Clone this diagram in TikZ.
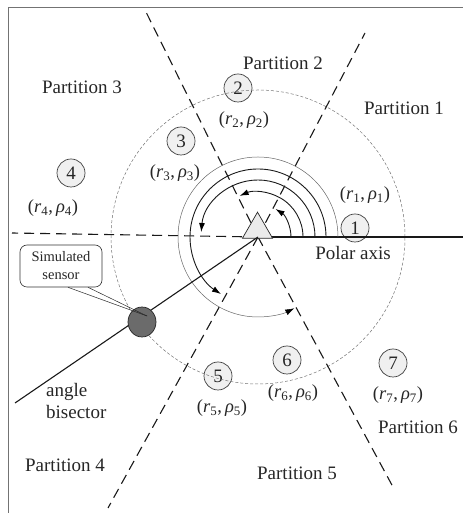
\documentclass[tikz,border=0pt]{standalone}
\usepackage{fontspec}
\setmainfont{Liberation Serif}
\usetikzlibrary{arrows.meta,shapes.geometric}
\begin{document}
\begin{tikzpicture}[x=1pt,y=1pt,
  part/.style={font=\fontsize{19}{22}\selectfont, text=black!85, inner sep=0pt},
  numc/.style={circle, draw=black!75, line width=0.7pt, fill=black!6, minimum size=28pt, inner sep=0pt, font=\fontsize{19}{20}\selectfont, text=black!85},
  coordlbl/.style={font=\fontsize{18.5}{20}\selectfont, text=black!85, inner sep=0pt},
  divline/.style={line width=1.1pt, dash pattern=on 10pt off 6pt, draw=black!90},
  solidline/.style={line width=1.1pt, draw=black!90},
  arcarrow/.style={line width=0.9pt, draw=black!90, -{Latex[length=9pt,width=6pt,color=black]}},
]
\useasboundingbox (0,0) rectangle (463,513);
% frame
\draw[black!55, line width=0.8pt] (8,0) -- (8,506) -- (463,506);

\coordinate (C) at (258,276);
\coordinate (UR) at (365,480);
\coordinate (UL) at (145,503);
\coordinate (L) at (12,280);
\coordinate (LL) at (108,5);
\coordinate (LR) at (393,26);
\coordinate (PA) at (463,276);
\coordinate (BS) at (15,110);

% numbered circles
\node[numc] (n1) at (355,285) {1};
\node[numc] (n2) at (238,425) {2};
\node[numc] (n3) at (181,372) {3};
\node[numc] (n4) at (71,340) {4};
\node[numc] (n5) at (218,137) {5};
\node[numc] (n6) at (287,153) {6};
\node[numc] (n7) at (393,150) {7};

% dashed circle
\draw[black!55, line width=0.5pt, dash pattern=on 3pt off 2pt] (C) circle[radius=147];

% dividing lines
\draw[divline] (C) -- (UR);
\draw[divline] (C) -- (UL);
\draw[divline] (C) -- (L);
\draw[divline] (C) -- (LL);
\draw[divline] (C) -- (LR);
\draw[solidline] (C) -- (PA);

% arcs
\draw[arcarrow] ([xshift=33pt]C) arc[start angle=0,end angle=58,radius=33];
\draw[arcarrow] ([xshift=45pt]C) arc[start angle=0,end angle=114,radius=45];
\draw[arcarrow] ([xshift=57pt]C) arc[start angle=0,end angle=175,radius=57];
\draw[arcarrow] ([xshift=68pt]C) arc[start angle=0,end angle=237,radius=68];
\draw[arcarrow, draw=black!60, line width=0.5pt] ([xshift=80pt]C) arc[start angle=0,end angle=297,radius=80];

% red mark and triangle
\draw[red!60!black, line width=0.6pt] ([xshift=11pt,yshift=1pt]C) arc[start angle=0,end angle=180,radius=11];
\node[draw=black!85, fill=black!8, line width=0.7pt, isosceles triangle, isosceles triangle apex angle=60, shape border rotate=90, minimum height=26pt, inner sep=0pt] (tri) at (257.5,283.5) {};

% bisector
\draw[solidline] (C) -- (BS);
\node[ellipse, draw=black!85, fill=black!58, line width=0.7pt, minimum width=28pt, minimum height=30pt, inner sep=0pt] (sensor) at (142,191) {};
\node[draw=black!80, rounded corners=7pt, line width=0.6pt, minimum width=82pt, minimum height=42pt, align=center, font=\fontsize{14.5}{18}\selectfont, text=black!85, fill=white, inner sep=1pt] (call) at (61,247) {Simulated\\sensor};
\coordinate (tip) at (147,197);
\draw[black!85, line width=0.5pt] ([xshift=7pt]call.south) -- (tip);
\draw[black!85, line width=0.5pt] ([xshift=27pt]call.south) -- (tip);

% labels
\node[coordlbl] (l1) at (365,318) {(\textit{r}\textsubscript{1},\,\textit{ρ}\textsubscript{1})};
\node[coordlbl] (l2) at (244,393) {(\textit{r}\textsubscript{2},\,\textit{ρ}\textsubscript{2})};
\node[coordlbl] (l3) at (175,340) {(\textit{r}\textsubscript{3},\,\textit{ρ}\textsubscript{3})};
\node[coordlbl] (l4) at (53,305) {(\textit{r}\textsubscript{4},\,\textit{ρ}\textsubscript{4})};
\node[coordlbl] (l5) at (222,105) {(\textit{r}\textsubscript{5},\,\textit{ρ}\textsubscript{5})};
\node[coordlbl] (l6) at (293,120) {(\textit{r}\textsubscript{6},\,\textit{ρ}\textsubscript{6})};
\node[coordlbl] (l7) at (398,118) {(\textit{r}\textsubscript{7},\,\textit{ρ}\textsubscript{7})};

\node[part] (p1) at (404,405) {Partition 1};
\node[part] (p2) at (283,450) {Partition 2};
\node[part] (p3) at (82,426) {Partition 3};
\node[part] (p4) at (65,48) {Partition 4};
\node[part] (p5) at (297,40) {Partition 5};
\node[part] (p6) at (418,86) {Partition 6};
\node[part] (pa) at (353,260) {Polar axis};
\node[part, anchor=west] (ang) at (46,121) {angle};
\node[part, anchor=west] (bis) at (46,101) {bisector};
\end{tikzpicture}
\end{document}
